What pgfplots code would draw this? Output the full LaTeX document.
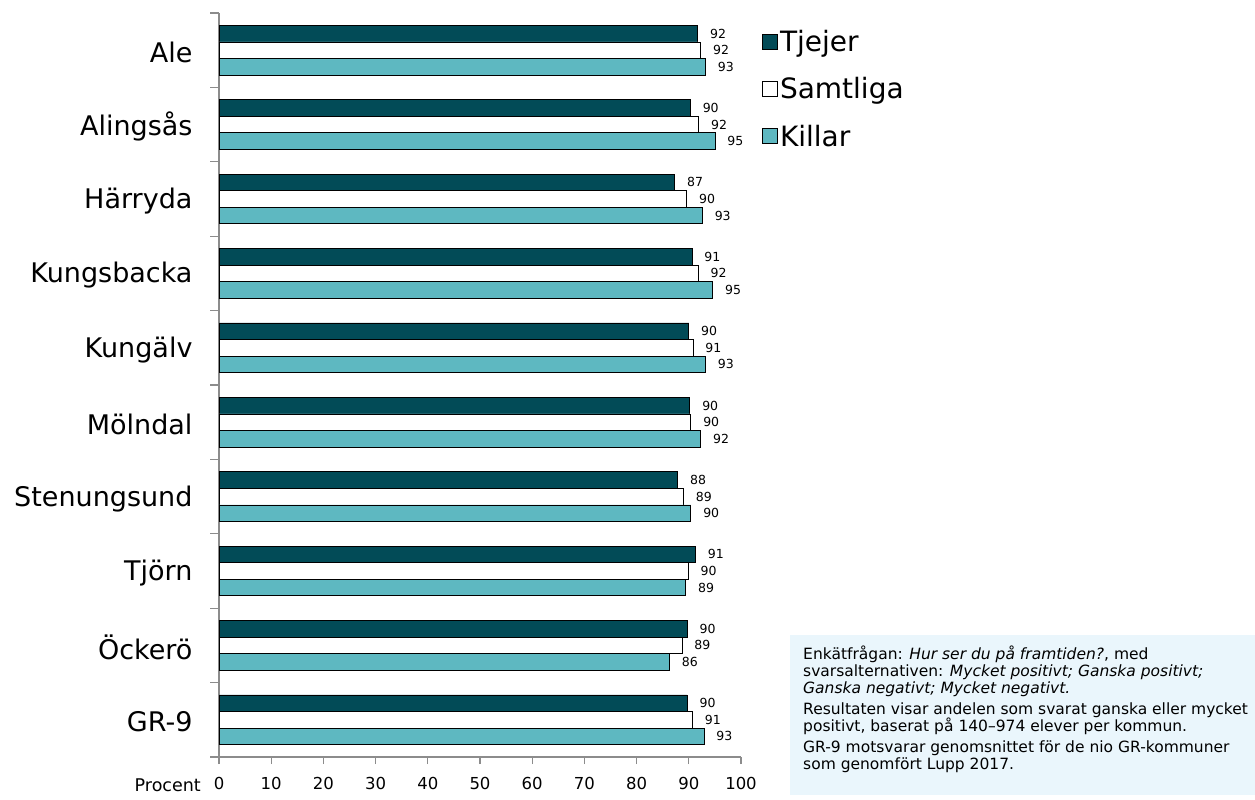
\documentclass[border=0pt]{standalone}
\usepackage{fontspec}
\setmainfont{DejaVu Sans}
\usepackage{pgfplots}
\pgfplotsset{compat=1.18}
\definecolor{tjejer}{HTML}{024B57}
\definecolor{killar}{HTML}{5EB8C1}
\definecolor{notebg}{HTML}{EAF6FC}
\definecolor{axgray}{HTML}{8C8C8C}

\pgfplotsset{
  sq legend/.style={legend image code/.code={\draw[##1, line width=0.8pt] (-2pt,-7.5pt) rectangle (13pt,7.5pt);}},
}

\begin{document}
\begin{tikzpicture}
\useasboundingbox (0pt,0pt) rectangle (1255pt,800pt);
% note box
\fill[notebg] (790pt,5pt) rectangle (1255pt,165pt);
\node[anchor=north west, align=left, inner sep=0pt,
  font=\fontsize{15.5}{17}\selectfont] at (803pt,154pt) {%
  Enkätfrågan: \textit{Hur ser du på framtiden?}, med\\
  svarsalternativen: \textit{Mycket positivt; Ganska positivt;}\\
  \textit{Ganska negativt; Mycket negativt.}\\[4pt]
  Resultaten visar andelen som svarat ganska eller mycket\\
  positivt, baserat på 140--974 elever per kommun.\\[4pt]
  GR-9 motsvarar genomsnittet för de nio GR-kommuner\\
  som genomfört Lupp 2017.};
\node[anchor=east, inner sep=0pt, font=\fontsize{17.5}{20}\selectfont] at (201pt,15pt) {Procent};

\begin{axis}[
  at={(219pt,43pt)}, anchor=south west,
  scale only axis, width=522pt, height=744pt,
  xbar, bar width=0.223,
  xmin=0, xmax=100, ymin=-0.5, ymax=9.5, y dir=reverse,
  axis x line*=bottom, axis y line*=left,
  axis line style={axgray, line width=1.3pt},
  xtick={0,10,...,100},
  ytick={0,...,9},
  yticklabels={Ale, Alingsås, Härryda, Kungsbacka, Kungälv, Mölndal, Stenungsund, Tjörn, Öckerö, GR-9},
  minor ytick={-0.5,0.5,...,9.5},
  tick align=outside, major tick length=7pt, minor tick length=9pt,
  major y tick style={draw=none},
  minor y tick style={axgray, line width=1.3pt},
  major x tick style={axgray, line width=1.3pt},
  /pgf/number format/assume math mode=true,
  xticklabel style={font=\fontsize{16.5}{19}\selectfont, yshift=-10pt},
  yticklabel style={font=\fontsize{27}{32}\selectfont, xshift=-16pt, yshift=-2pt},
  nodes near coords={\pgfmathprintnumber[fixed,precision=0]{\pgfplotspointmeta}},
  nodes near coords style={font=\fontsize{12.5}{14}\selectfont, anchor=west, inner sep=0pt, xshift=12pt},
  legend style={draw=none, fill=none, at={(1,1)}, anchor=north west, xshift=21pt, yshift=-15pt,
    font=\fontsize{28}{33}\selectfont, row sep=20.5pt, inner sep=0pt},
  legend cell align=left,
]
\addplot[fill=tjejer, draw=black, line width=0.8pt, bar shift=-0.223, sq legend] coordinates {
  (91.7,0) (90.3,1) (87.3,2) (90.6,3) (90.0,4) (90.2,5) (87.9,6) (91.3,7) (89.7,8) (89.7,9)
};
\addlegendentry{Tjejer}
\addplot[fill=white, draw=black, line width=0.8pt, bar shift=0, sq legend] coordinates {
  (92.3,0) (91.9,1) (89.6,2) (91.8,3) (90.8,4) (90.4,5) (89.0,6) (89.9,7) (88.7,8) (90.7,9)
};
\addlegendentry{Samtliga}
\addplot[fill=killar, draw=black, line width=0.8pt, bar shift=0.223, sq legend] coordinates {
  (93.2,0) (95.0,1) (92.6,2) (94.6,3) (93.2,4) (92.3,5) (90.4,6) (89.4,7) (86.3,8) (92.9,9)
};
\addlegendentry{Killar}
\end{axis}
\end{tikzpicture}
\end{document}
